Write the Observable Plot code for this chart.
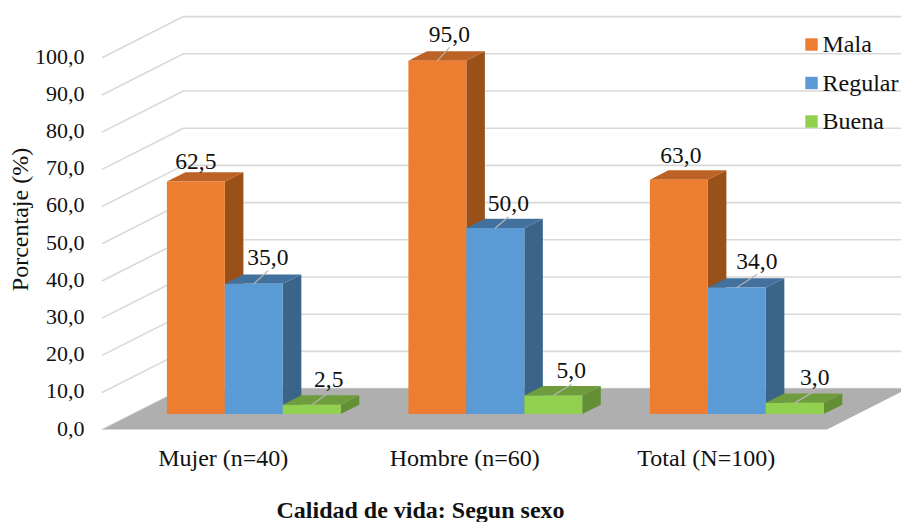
<!DOCTYPE html>
<html>
<head>
<meta charset="utf-8">
<script src="https://cdn.jsdelivr.net/npm/d3@7"></script>
<script src="https://cdn.jsdelivr.net/npm/@observablehq/plot@0.6"></script>
<style>
  html, body { margin: 0; padding: 0; background: #fff; }
</style>
</head>
<body>
<div id="chart"></div>
<script>
// Survey results: quality of life by sex.
const categories = ["Mujer (n=40)", "Hombre (n=60)", "Total (N=100)"];
const seriesNames = ["Mala", "Regular", "Buena"];
const mala = [62.5, 95, 63];
const regular = [35, 50, 34];
const buena = [2.5, 5, 3];
const yTicks = [0, 10, 20, 30, 40, 50, 60, 70, 80, 90, 100];

// Front, top and side shades for each series.
const shades = {
  Mala: ["#ED7D31", "#BC6225", "#9A5019"],
  Regular: ["#5B9BD5", "#41719C", "#3A6488"],
  Buena: ["#92D050", "#6F9C3C", "#649035"]
};

// Oblique projection: depth 0..1 runs from the front edge of the floor to the back wall.
const xPerDepth = 0.335;      // horizontal shift of the back wall, in category widths
const yPerDepth = 11;         // vertical shift of the back wall, in percentage points
const barDepthStart = 0.378;
const barDepthEnd = 0.607;
const barWidth = 0.24;
const groupPad = 0.14;

const px = (x, depth) => x + depth * xPerDepth;
const py = (v, depth) => v + depth * yPerDepth;
const comma = (v) => d3.format(".1f")(v).replace(".", ",");

const values = { Mala: mala, Regular: regular, Buena: buena };
const bars = categories.flatMap((category, c) =>
  seriesNames.map((name, s) => ({
    category, name, value: values[name][c],
    x0: c + groupPad + s * barWidth,
    x1: c + groupPad + (s + 1) * barWidth
  }))
);

// One closed outline for each visible face, listed back-to-front per bar.
const faces = bars.flatMap((b, i) => {
  const [front, top, side] = shades[b.name];
  const d0 = barDepthStart, d1 = barDepthEnd;
  const poly = (face, fill, pts) =>
    pts.map(([x, v, d]) => ({ id: `${i}-${face}`, fill, x: px(x, d), y: py(v, d) }));
  return [
    ...poly("side", side, [[b.x1, 0, d0], [b.x1, 0, d1], [b.x1, b.value, d1], [b.x1, b.value, d0]]),
    ...poly("top", top, [[b.x0, b.value, d0], [b.x1, b.value, d0], [b.x1, b.value, d1], [b.x0, b.value, d1]]),
    ...poly("front", front, [[b.x0, 0, d0], [b.x1, 0, d0], [b.x1, b.value, d0], [b.x0, b.value, d0]])
  ];
});

const floor = [[0, 0], [3, 0], [3, 1], [0, 1]].map(([x, d]) => ({ x: px(x, d), y: py(0, d) }));

const grid = yTicks.flatMap((v) => [
  { v, x: 0, y: v },
  { v, x: px(0, 1), y: py(v, 1) },
  { v, x: px(3, 1), y: py(v, 1) }
]);

// Label nudges per bar, in pixels from the front-top centre of the bar: sideways, upward.
const labelShiftX = [0, 14, 17, 12, 13, 18, 2, 20, 20];
const labelShiftY = [13, 19, 18, 19, 17, 17, 17, 19, 18];
const xUnit = 1 / 241.5;
const yUnit = 1 / 3.72;

const labels = bars.map((b, i) => {
  const cx = px((b.x0 + b.x1) / 2, barDepthStart);
  const top = py(b.value, barDepthStart);
  return {
    text: comma(b.value),
    cx, top,
    lx: cx + labelShiftX[i] * xUnit,
    ly: top + labelShiftY[i] * yUnit,
    leaderY: top + (labelShiftY[i] - 6) * yUnit,
    hasLeader: labelShiftX[i] > 5
  };
});
const leaders = labels.filter((l) => l.hasLeader).flatMap((l, i) => [
  { i, x: l.cx, y: l.top },
  { i, x: l.lx, y: l.leaderY }
]);

const legendRows = seriesNames.map((name, i) => ({ name, color: shades[name][0], dy: 44 + i * 38.5 }));

const chart = Plot.plot({
  width: 901,
  height: 522,
  marginTop: 0,
  marginRight: 0,
  marginBottom: 93,
  marginLeft: 102,
  x: { domain: [0, 3], range: [102, 826.5], axis: null },
  y: { domain: [0, 100], range: [429, 57], axis: null },
  style: { fontFamily: "'Liberation Serif', serif", background: "#fff", color: "#111" },
  marks: [
    Plot.line(grid, { x: "x", y: "y", z: "v", stroke: "#D9D9D9", strokeWidth: 1.6, curve: "linear" }),
    Plot.line(floor, { x: "x", y: "y", fill: "#AFAFAF", stroke: "none" }),
    Plot.line(faces, { x: "x", y: "y", z: "id", fill: "fill", stroke: "none" }),
    Plot.line(leaders, { x: "x", y: "y", z: "i", stroke: "#B5B5B5", strokeWidth: 1.2 }),
    Plot.text(labels, { x: "lx", y: "ly", text: "text", lineAnchor: "bottom", fontSize: 23.5 }),
    Plot.axisY(yTicks, {
      anchor: "left", tickSize: 0, tickPadding: 18, tickFormat: comma,
      fontSize: 22, label: null, dy: -1
    }),
    Plot.axisX([0.5, 1.5, 2.5], {
      anchor: "bottom", tickSize: 0, tickPadding: 19, label: null,
      tickFormat: (d) => categories[Math.floor(d)], fontSize: 24
    }),
    Plot.text(["Porcentaje (%)"], {
      frameAnchor: "top-left", dx: -92, dy: 219, rotate: -90,
      text: (d) => d, textAnchor: "middle", fontSize: 24
    }),
    Plot.text(["Calidad de vida: Segun sexo"], {
      frameAnchor: "top-left", dx: 318, dy: 517, lineAnchor: "bottom",
      text: (d) => d, textAnchor: "middle", fontSize: 24, fontWeight: "bold"
    }),
    ...legendRows.flatMap((row) => [
      Plot.dot([row.name], {
        frameAnchor: "top-left", dx: 709, dy: row.dy, symbol: "square", r: 7,
        fill: row.color, stroke: "none"
      }),
      Plot.text([row.name], {
        frameAnchor: "top-left", dx: 720, dy: row.dy, text: (d) => d,
        textAnchor: "start", lineAnchor: "middle", fontSize: 24
      })
    ])
  ]
});

document.getElementById("chart").appendChild(chart);
</script>
</body>
</html>
